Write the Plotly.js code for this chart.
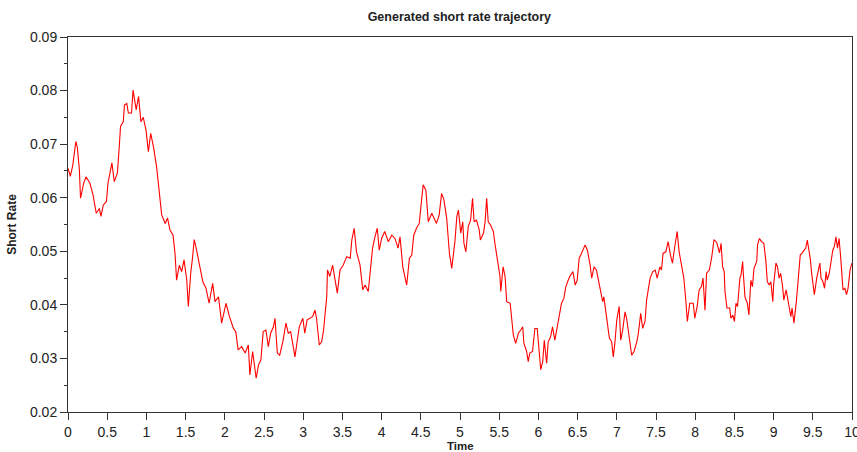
<!DOCTYPE html>
<html>
<head>
<meta charset="utf-8">
<script src="https://cdn.plot.ly/plotly-3.0.1.min.js"></script>
<style>html,body{margin:0;padding:0;background:#fff;}#chart{width:857px;height:452px;}</style>
</head>
<body>
<div id="chart"></div>
<script>
const time = [0,0.03,0.06,0.1,0.12,0.145,0.16,0.2,0.23,0.28,0.32,0.36,0.4,0.42,0.45,0.49,0.51,0.56,0.59,0.63,0.655,0.67,0.705,0.72,0.75,0.77,0.81,0.83,0.87,0.9,0.93,0.96,0.995,1.025,1.055,1.09,1.13,1.165,1.195,1.24,1.27,1.3,1.34,1.365,1.385,1.42,1.45,1.48,1.515,1.535,1.565,1.59,1.61,1.64,1.68,1.72,1.76,1.8,1.845,1.875,1.92,1.96,2.015,2.06,2.11,2.14,2.17,2.215,2.26,2.3,2.32,2.355,2.4,2.43,2.46,2.49,2.525,2.555,2.585,2.62,2.64,2.67,2.7,2.74,2.78,2.81,2.84,2.865,2.895,2.925,2.95,2.995,3.02,3.05,3.09,3.12,3.15,3.17,3.205,3.235,3.26,3.28,3.3,3.31,3.34,3.375,3.405,3.435,3.47,3.51,3.555,3.6,3.62,3.65,3.68,3.725,3.76,3.79,3.83,3.86,3.885,3.915,3.945,3.97,4.0,4.04,4.085,4.13,4.17,4.21,4.235,4.27,4.3,4.32,4.355,4.385,4.41,4.445,4.48,4.5,4.53,4.565,4.595,4.64,4.67,4.7,4.735,4.765,4.795,4.83,4.865,4.895,4.935,4.96,4.98,5.01,5.035,5.05,5.075,5.105,5.135,5.16,5.18,5.21,5.245,5.26,5.3,5.32,5.34,5.36,5.39,5.425,5.445,5.47,5.49,5.51,5.52,5.55,5.575,5.595,5.64,5.66,5.68,5.71,5.745,5.775,5.8,5.815,5.85,5.87,5.89,5.925,5.955,5.985,6.01,6.03,6.055,6.075,6.105,6.125,6.155,6.18,6.21,6.24,6.265,6.295,6.325,6.35,6.38,6.4,6.44,6.47,6.495,6.52,6.55,6.58,6.595,6.625,6.66,6.68,6.71,6.74,6.76,6.79,6.82,6.835,6.86,6.88,6.905,6.935,6.955,6.975,7.0,7.03,7.05,7.075,7.105,7.125,7.15,7.17,7.19,7.22,7.255,7.275,7.305,7.33,7.36,7.38,7.405,7.425,7.46,7.49,7.515,7.55,7.57,7.59,7.625,7.655,7.685,7.71,7.74,7.77,7.795,7.825,7.855,7.88,7.9,7.93,7.975,7.995,8.025,8.05,8.08,8.1,8.125,8.145,8.18,8.21,8.24,8.275,8.31,8.33,8.35,8.37,8.38,8.405,8.44,8.455,8.48,8.5,8.52,8.54,8.57,8.585,8.605,8.615,8.635,8.665,8.685,8.71,8.73,8.75,8.785,8.795,8.82,8.845,8.875,8.9,8.92,8.945,8.965,8.99,9.0,9.03,9.05,9.07,9.09,9.115,9.13,9.16,9.175,9.2,9.22,9.235,9.26,9.29,9.305,9.32,9.34,9.36,9.385,9.41,9.43,9.45,9.47,9.485,9.505,9.52,9.55,9.565,9.59,9.605,9.63,9.65,9.67,9.685,9.71,9.73,9.755,9.775,9.795,9.815,9.835,9.855,9.875,9.885,9.91,9.93,9.95,9.975,10.0];
const shortRate = [0.0655,0.064,0.066,0.0705,0.0693,0.0652,0.0599,0.0627,0.0639,0.0627,0.0605,0.0571,0.058,0.0565,0.0586,0.0593,0.0627,0.0665,0.063,0.0646,0.0698,0.0733,0.0742,0.0773,0.0776,0.0758,0.0758,0.0801,0.0764,0.0789,0.0742,0.075,0.0726,0.0686,0.072,0.0695,0.0658,0.0605,0.0568,0.0552,0.0562,0.054,0.053,0.0496,0.0446,0.0474,0.0462,0.0484,0.0446,0.0397,0.0459,0.049,0.0522,0.0502,0.0471,0.0443,0.0431,0.0403,0.044,0.0406,0.0415,0.0366,0.0403,0.0378,0.0356,0.035,0.0316,0.0322,0.031,0.0325,0.0269,0.0313,0.0263,0.0288,0.0297,0.035,0.0353,0.0322,0.0347,0.0359,0.0375,0.031,0.0306,0.0331,0.0366,0.0347,0.035,0.0328,0.0303,0.0334,0.0359,0.0375,0.0347,0.0372,0.0375,0.0378,0.039,0.0375,0.0325,0.0331,0.0353,0.0378,0.0415,0.0465,0.0453,0.0474,0.0446,0.0422,0.0465,0.0474,0.049,0.0487,0.0521,0.0543,0.0499,0.0474,0.0428,0.0437,0.0425,0.0478,0.0506,0.0527,0.0543,0.0502,0.0524,0.0537,0.0518,0.053,0.0524,0.0506,0.0527,0.0471,0.0453,0.0437,0.0487,0.0493,0.053,0.0543,0.0552,0.0577,0.0624,0.0614,0.0555,0.0571,0.0562,0.0552,0.0568,0.0608,0.0596,0.0562,0.0496,0.0468,0.0518,0.0565,0.0577,0.0534,0.0555,0.0515,0.0499,0.0546,0.0558,0.0599,0.0555,0.0558,0.054,0.0521,0.0534,0.0555,0.0599,0.0555,0.0549,0.0537,0.0515,0.0493,0.0468,0.0453,0.0425,0.0471,0.0453,0.0406,0.0403,0.0372,0.0344,0.0328,0.0347,0.0353,0.0359,0.0328,0.0313,0.0294,0.031,0.0313,0.0356,0.0356,0.0313,0.0279,0.0294,0.0334,0.0291,0.0331,0.034,0.0359,0.0334,0.0359,0.0375,0.0403,0.0412,0.0434,0.0446,0.0453,0.0462,0.0437,0.0446,0.0487,0.0496,0.0509,0.0512,0.0502,0.0474,0.045,0.0471,0.0465,0.045,0.0425,0.0406,0.0415,0.039,0.0372,0.0338,0.0331,0.0303,0.0328,0.0372,0.0397,0.0334,0.0353,0.0387,0.0375,0.0347,0.0334,0.0306,0.0313,0.0331,0.0347,0.0384,0.0356,0.0369,0.0409,0.0431,0.045,0.0462,0.0465,0.045,0.0471,0.0465,0.0496,0.0499,0.0518,0.0493,0.0478,0.0509,0.0537,0.0499,0.0471,0.045,0.0409,0.0369,0.0403,0.0403,0.0375,0.0397,0.0428,0.0434,0.045,0.039,0.0459,0.0465,0.0488,0.0522,0.0516,0.0497,0.0515,0.0471,0.0462,0.0425,0.0394,0.0394,0.0375,0.0381,0.0369,0.0403,0.0397,0.045,0.0456,0.0481,0.0456,0.0415,0.0403,0.0381,0.0446,0.0434,0.0468,0.0481,0.0512,0.0524,0.0518,0.0515,0.0484,0.0443,0.0437,0.0443,0.0406,0.0437,0.0478,0.0471,0.045,0.0459,0.0434,0.0409,0.0428,0.0415,0.0397,0.0378,0.0394,0.0366,0.0406,0.0434,0.0471,0.0493,0.0496,0.0502,0.0506,0.0521,0.0506,0.0484,0.0459,0.0431,0.0419,0.045,0.0459,0.0478,0.045,0.0443,0.0431,0.0462,0.0446,0.0459,0.0478,0.0502,0.0509,0.0527,0.0506,0.0524,0.049,0.0453,0.0428,0.0431,0.0419,0.0431,0.0465,0.0478];
const xTicks = [0,0.5,1,1.5,2,2.5,3,3.5,4,4.5,5,5.5,6,6.5,7,7.5,8,8.5,9,9.5,10];
const xTickText = ["0","0.5","1","1.5","2","2.5","3","3.5","4","4.5","5","5.5","6","6.5","7","7.5","8","8.5","9","9.5","10"];
const yTicks = [0.02,0.03,0.04,0.05,0.06,0.07,0.08,0.09];
const yTickText = ["0.02","0.03","0.04","0.05","0.06","0.07","0.08","0.09"];

const FONT = "Liberation Sans, Arial, Helvetica, sans-serif";
const trace = {
  x: time, y: shortRate, type: "scatter", mode: "lines",
  line: {color: "#ff0000", width: 1.1, shape: "linear"},
  hoverinfo: "skip"
};
const layout = {
  width: 857, height: 452,
  margin: {l: 68, r: 5, t: 37, b: 40, pad: 0},
  paper_bgcolor: "#ffffff", plot_bgcolor: "#ffffff",
  showlegend: false,
  font: {family: FONT, color: "#222222", size: 14},
  title: {text: "Generated short rate trajectory", font: {family: FONT, size: 12.5, color: "#222222", weight: "bold"}, x: 0.536, xanchor: "center", y: 0.963, yanchor: "middle"},
  xaxis: {
    range: [0, 10], tickmode: "array", tickvals: xTicks, ticktext: xTickText,
    ticks: "outside", ticklen: 7, tickwidth: 1, tickcolor: "#333333",
    showline: true, linecolor: "#333333", linewidth: 1, mirror: true,
    showgrid: false, zeroline: false, automargin: false,
    ticklabeloverflow: "allow",
    tickfont: {family: FONT, size: 14, color: "#222222"}
  },
  yaxis: {
    range: [0.02, 0.09], tickmode: "array", tickvals: yTicks, ticktext: yTickText,
    ticks: "outside", ticklen: 7, tickwidth: 1, tickcolor: "#333333",
    minor: {dtick: 0.005, ticks: "outside", ticklen: 3, tickcolor: "#333333", showgrid: false},
    showline: true, linecolor: "#333333", linewidth: 1, mirror: true,
    showgrid: false, zeroline: false, automargin: false,
    tickfont: {family: FONT, size: 14, color: "#222222"},
    title: {text: "Short Rate", font: {family: FONT, size: 12, color: "#222222", weight: "bold"}, standoff: 10}
  },
  annotations: [{
    text: "Time", xref: "paper", yref: "paper", x: 0.5, y: -0.09,
    xanchor: "center", yanchor: "middle", showarrow: false,
    font: {family: FONT, size: 11.5, color: "#222222", weight: "bold"}
  }]
};
Plotly.newPlot("chart", [trace], layout, {displayModeBar: false, staticPlot: true});
</script>
</body>
</html>
